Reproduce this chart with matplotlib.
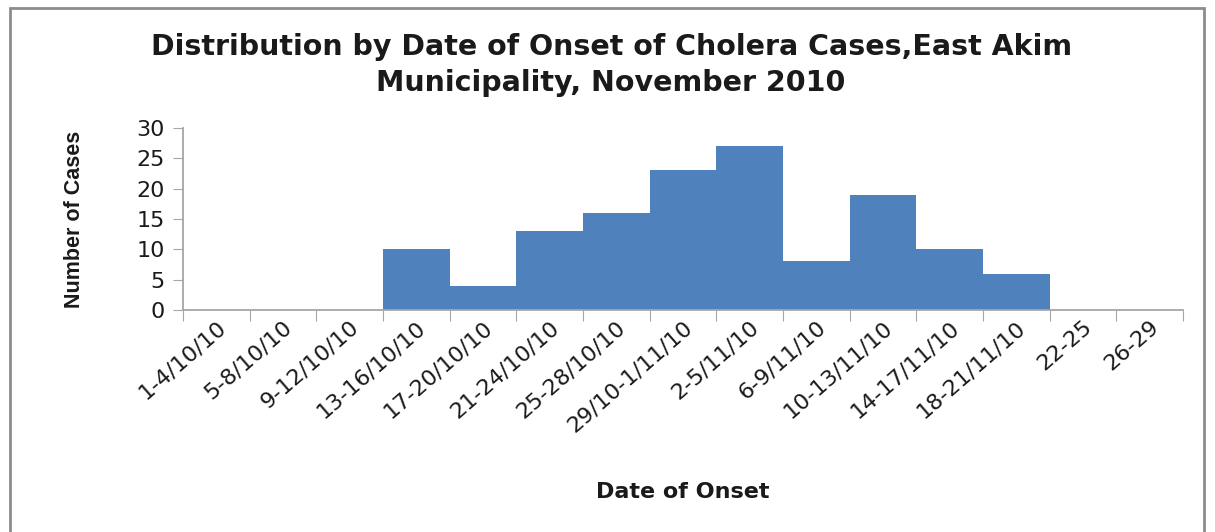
import matplotlib
matplotlib.use('Agg')
import matplotlib.pyplot as plt
from matplotlib.patches import Rectangle

# onset periods (4-day bins) and number of cholera cases
periods = ['1-4/10/10', '5-8/10/10', '9-12/10/10', '13-16/10/10', '17-20/10/10',
           '21-24/10/10', '25-28/10/10', '29/10-1/11/10', '2-5/11/10', '6-9/11/10',
           '10-13/11/10', '14-17/11/10', '18-21/11/10', '22-25', '26-29']
cases = [0, 0, 0, 10, 4, 13, 16, 23, 27, 8, 19, 10, 6, 0, 0]

bar_color = '#4F81BD'
axis_gray = '#A6A6A6'
text_col = '#1a1a1a'

plt.rcParams['font.family'] = 'DejaVu Sans'
fig = plt.figure(figsize=(12.15, 5.32), dpi=100)
ax = fig.add_axes([183/1215, 1 - 310/532, 1000/1215, 182/532])

x = list(range(len(periods)))
ax.bar(x, cases, width=1.0, color=bar_color, edgecolor='none')

ax.set_xlim(-0.5, len(periods) - 0.5)
ax.set_ylim(0, 30)
ax.set_yticks(range(0, 31, 5))
ax.tick_params(axis='y', labelsize=16, length=7, color=axis_gray, labelcolor=text_col, pad=6)

# ticks at bin edges, labels at bin centres
ax.set_xticks([i - 0.5 for i in range(len(periods) + 1)])
ax.set_xticklabels([])
ax.tick_params(axis='x', which='major', length=8, color=axis_gray)
ax.set_xticks(x, minor=True)
ax.set_xticklabels(periods, minor=True, rotation=41, ha='right', rotation_mode='anchor',
                   fontsize=16, color=text_col)
ax.tick_params(axis='x', which='minor', length=0, pad=5)

for s in ['top', 'right']:
    ax.spines[s].set_visible(False)
for s in ['left', 'bottom']:
    ax.spines[s].set_color(axis_gray)
    ax.spines[s].set_linewidth(1.3)

ax.set_ylabel('Number of Cases', fontsize=15.5, fontweight='bold', family='Liberation Sans',
              color=text_col)
ax.yaxis.set_label_coords(-0.098, 0.5)
ax.set_xlabel('Date of Onset', fontsize=16, fontweight='bold', va='center', color=text_col)
ax.xaxis.set_label_coords(0.5, -1.0)

fig.text(0.503, 1 - 47/532, 'Distribution by Date of Onset of Cholera Cases,East Akim',
         ha='center', va='center', fontsize=20.5, fontweight='bold', color=text_col)
fig.text(0.503, 1 - 83/532, 'Municipality, November 2010',
         ha='center', va='center', fontsize=20.5, fontweight='bold', color=text_col)

# chart area border
fig.patches.append(Rectangle((10/1215, -0.1), (1204 - 10)/1215, 1.1 - 8/532,
                             transform=fig.transFigure, fill=False,
                             edgecolor='#8C8C8C', linewidth=2))

fig.savefig('out.png', dpi=100)
